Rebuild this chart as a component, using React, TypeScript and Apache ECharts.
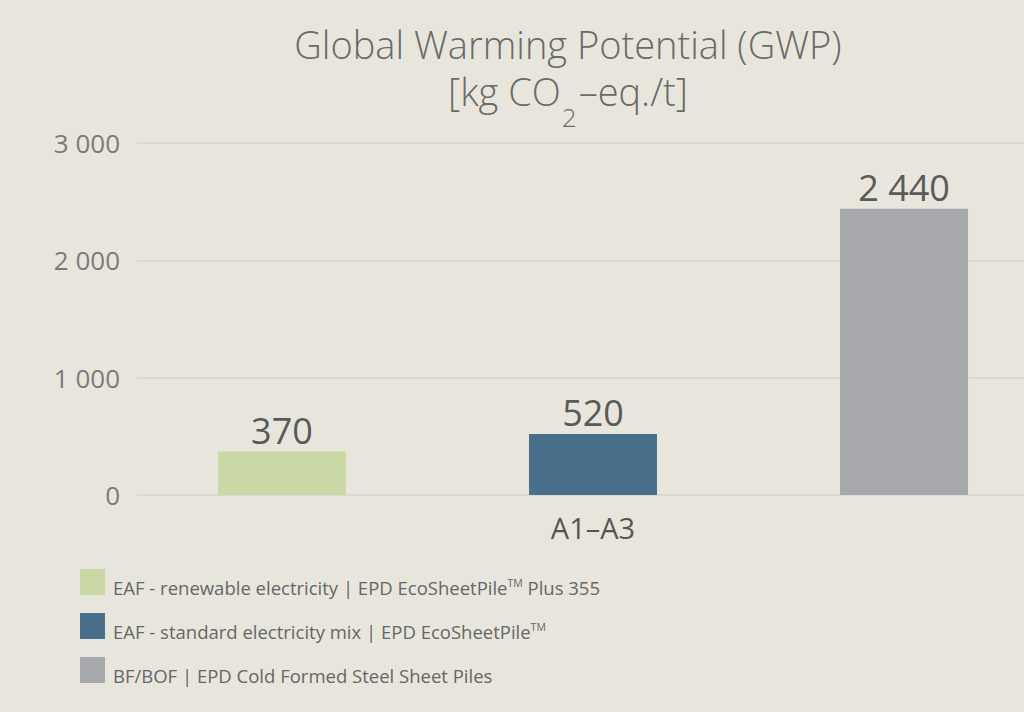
import React, { useEffect, useRef } from "react";
import * as echarts from "echarts";

const categories = ["A1–A3"];
const seriesNames = [
  "EAF - renewable electricity | EPD EcoSheetPile{sup|TM} Plus 355",
  "EAF - standard electricity mix | EPD EcoSheetPile{sup|TM}",
  "BF/BOF | EPD Cold Formed Steel Sheet Piles",
];
const seriesKeys = ["renewable", "standard", "bfbof"];
const seriesValues = [[370], [520], [2440]];
const seriesColors = ["#c9d8a5", "#4a6f8b", "#a7a8ab"];
const yTicks = [0, 1000, 2000, 3000];

const fmt = (v: number) =>
  String(Math.round(v)).replace(/\B(?=(\d{3})+(?!\d))/g, " ");

const FONT = "'Open Sans', 'Noto Sans', sans-serif";
const TITLE_COLOR = "#6a6a6a";

export default function App() {
  const ref = useRef<HTMLDivElement>(null);
  useEffect(() => {
    if (!ref.current) return;
    const chart = echarts.init(ref.current, undefined, { renderer: "svg" });
    const nameMap: Record<string, string> = {};
    seriesKeys.forEach((k, i) => (nameMap[k] = seriesNames[i]));
    chart.setOption({
      animation: false,
      backgroundColor: "#e8e6dc",
      textStyle: { fontFamily: FONT },
      title: {
        text:
          "{a|Global Warming Potential (GWP)}\n{a|[kg CO}{sub|2}{a|–eq./t]}",
        left: 563,
        top: 20,
        textAlign: "center",
        textStyle: {
          fontFamily: FONT,
          fontSize: 38,
          fontWeight: 300,
          color: TITLE_COLOR,
          lineHeight: 47,
          rich: {
            a: {
              fontFamily: FONT,
              fontSize: 38,
              fontWeight: 300,
              color: TITLE_COLOR,
              lineHeight: 47,
              verticalAlign: "top",
            },
            sub: {
              fontFamily: FONT,
              fontSize: 26,
              fontWeight: 300,
              color: TITLE_COLOR,
              lineHeight: 26,
              verticalAlign: "top",
              padding: [32, 2, 0, 1],
            },
          },
        },
      },
      legend: {
        orient: "vertical",
        left: 80,
        top: 569,
        itemWidth: 25,
        itemHeight: 26,
        itemGap: 16.5,
        icon: "rect",
        padding: 0,
        selectedMode: false,
        data: seriesKeys,
        formatter: (name: string) => nameMap[name] || name,
        textStyle: {
          fontFamily: FONT,
          fontSize: 18.5,
          color: "#666666",
          padding: [10, 0, 0, 3],
          rich: {
            sup: {
              fontFamily: FONT,
              fontSize: 10.5,
              color: "#666666",
              padding: [0, 0, 9, 0],
            },
          },
        },
      },
      grid: [
        { left: 137, top: 143, right: 0, height: 352 },
        { left: 162, top: 143, right: 0, height: 352 },
      ],
      xAxis: [
        {
          type: "category",
          gridIndex: 0,
          data: categories,
          axisLine: { show: false },
          axisTick: { show: false },
          axisLabel: { show: false },
        },
        {
          type: "category",
          gridIndex: 1,
          data: categories,
          axisLine: { show: false },
          axisTick: { show: false },
          axisLabel: {
            fontFamily: FONT,
            fontSize: 29,
            color: "#555555",
            margin: 18,
          },
        },
      ],
      yAxis: [
        {
          type: "value",
          gridIndex: 0,
          min: 0,
          max: 3000,
          interval: 1000,
          axisLine: { show: false },
          axisTick: { show: false },
          splitLine: { lineStyle: { color: "#d5d4cc", width: 1.5 } },
          axisLabel: {
            fontFamily: FONT,
            fontSize: 26,
            color: "#7a7a7a",
            margin: 17,
            formatter: (v: number) => (yTicks.includes(v) ? fmt(v) : ""),
          },
        },
        {
          type: "value",
          gridIndex: 1,
          min: 0,
          max: 3000,
          interval: 1000,
          show: false,
          splitLine: { show: false },
        },
      ],
      series: seriesKeys.map((k, i) => ({
        name: k,
        type: "bar",
        xAxisIndex: 1,
        yAxisIndex: 1,
        data: seriesValues[i],
        barWidth: 128,
        barGap: "143%",
        itemStyle: { color: seriesColors[i] },
        label: {
          show: true,
          position: "top",
          distance: 3,
          fontFamily: FONT,
          fontSize: 36,
          color: "#5a5a5a",
          formatter: (p: any) => fmt(p.value),
        },
      })),
    });
    return () => chart.dispose();
  }, []);
  return (
    <div
      ref={ref}
      style={{ position: "absolute", left: 0, top: 0, width: 1024, height: 712 }}
    />
  );
}
